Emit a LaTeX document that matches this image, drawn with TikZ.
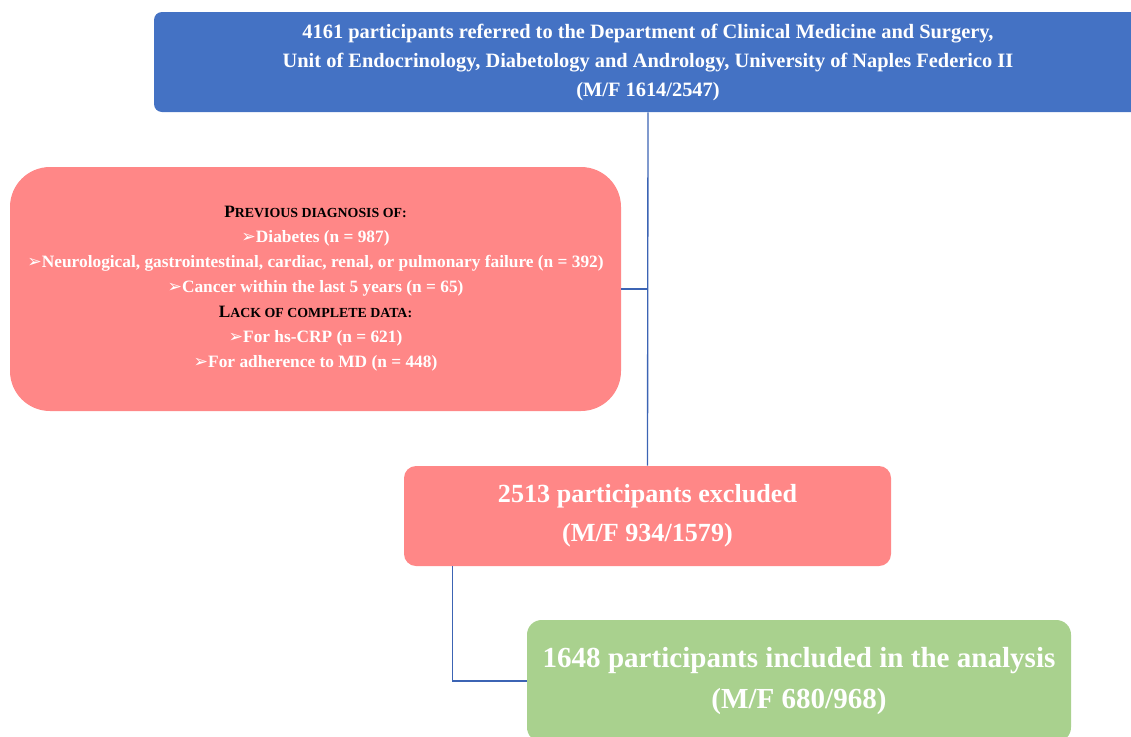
\documentclass[tikz,border=0pt]{standalone}
\usepackage{fontspec}
\setmainfont{Liberation Serif}
\newfontfamily\symfont{DejaVu Sans}
\usetikzlibrary{calc}
\definecolor{boxblue}{RGB}{68,114,196}
\definecolor{boxred}{RGB}{255,135,135}
\definecolor{boxgreen}{RGB}{169,209,142}
\definecolor{linkblue}{RGB}{60,100,180}
\newcommand{\fakesc}[2]{#1{\fontsize{10.4pt}{12pt}\selectfont #2}}
\newcommand{\itemmark}{{\symfont\fontsize{13pt}{12pt}\selectfont ➢}}
\tikzset{
	flowbox/.style={inner sep=0pt, align=center, text=white, font=\bfseries},
	link/.style={draw=linkblue, line width=1pt}
}
\begin{document}
\begin{tikzpicture}[x=0.75pt,y=0.75pt,yscale=-1,xscale=1]
	\useasboundingbox (0,0) rectangle (1131,736);
	% boxes
	\node [flowbox, fill=boxblue, rounded corners=6pt, minimum width=741pt, minimum height=75pt,
		font=\bfseries\fontsize{15.3pt}{21.75pt}\selectfont] (referred) at (648,62)
		{4161 participants referred to the Department of Clinical Medicine and Surgery,\\
		Unit of Endocrinology, Diabetology and Andrology, University of Naples Federico II\\
		(M/F 1614/2547)};
	\node [flowbox, fill=boxred, rounded corners=30pt, minimum width=458.25pt, minimum height=183pt,
		font=\bfseries\fontsize{13pt}{18.75pt}\selectfont] (reasons) at (315.5,289)
		{\textcolor{black}{\fakesc{P}{REVIOUS DIAGNOSIS OF:}}\\
		\itemmark Diabetes (n = 987)\\
		\itemmark Neurological, gastrointestinal, cardiac, renal, or pulmonary failure (n = 392)\\
		\itemmark Cancer within the last 5 years (n = 65)\\
		\textcolor{black}{\fakesc{L}{ACK OF COMPLETE DATA:}}\\
		\itemmark For hs-CRP (n = 621)\\
		\itemmark For adherence to MD (n = 448)};
	\node [flowbox, fill=boxred, rounded corners=9pt, minimum width=365.25pt, minimum height=75pt,
		font=\bfseries\fontsize{19.6pt}{29pt}\selectfont] (excluded) at (647.5,516)
		{2513 participants excluded\\(M/F 934/1579)};
	\node [flowbox, fill=boxgreen, rounded corners=11pt, minimum width=408pt, minimum height=91.5pt,
		font=\bfseries\fontsize{21.8pt}{31pt}\selectfont] (included) at (799,681)
		{1648 participants included in the analysis\\(M/F 680/968)};
	% connectors
	\draw [link] (referred.south) -- (excluded.north);
	\draw [link] (reasons.east) -- (reasons.east -| referred.south);
	\coordinate (split) at ($(excluded.south west)+(49,0)$);
	\draw [link] (split) |- (included.west);
\end{tikzpicture}
\end{document}
